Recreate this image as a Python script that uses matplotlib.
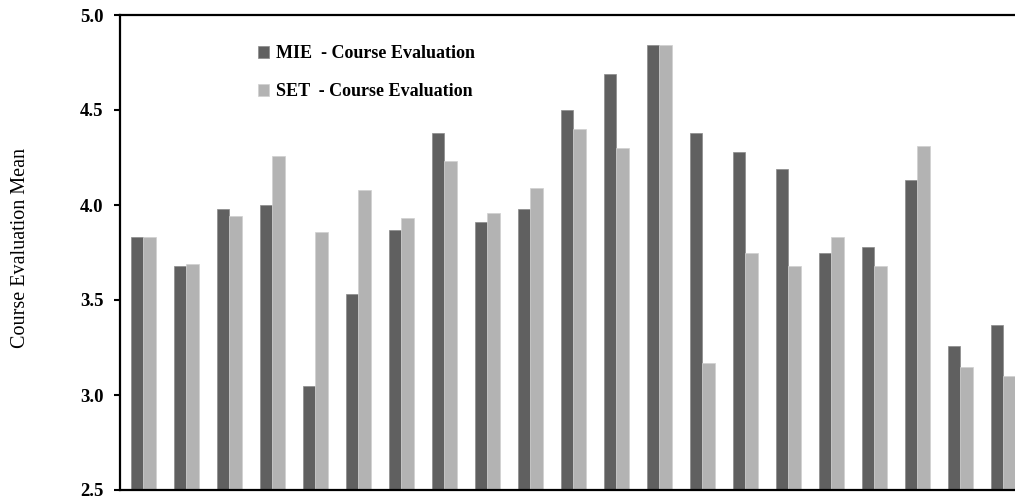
import numpy as np
import matplotlib.pyplot as plt

# mean scores per course, two evaluation sources
mie = [3.83, 3.68, 3.98, 4.00, 3.05, 3.53, 3.87, 4.38, 3.91, 3.98, 4.50,
       4.69, 4.84, 4.38, 4.28, 4.19, 3.75, 3.78, 4.13, 3.26, 3.37]
set_ = [3.83, 3.69, 3.94, 4.26, 3.86, 4.08, 3.93, 4.23, 3.96, 4.09, 4.40,
        4.30, 4.84, 3.17, 3.75, 3.68, 3.83, 3.68, 4.31, 3.15, 3.10]
yticks = [2.5, 3.0, 3.5, 4.0, 4.5, 5.0]

plt.rcParams['font.family'] = ['Liberation Serif', 'DejaVu Serif']

fig = plt.figure(figsize=(10.15, 5.0), dpi=100)
ax = fig.add_axes([0.1182, 0.02, 0.8818, 0.95])

x = np.arange(len(mie))
w = 0.285
ax.bar(x - w / 2, mie, w, color='#606060', edgecolor='#8a8a8a',
       linewidth=0.5, label='MIE  - Course Evaluation', zorder=3)
ax.bar(x + w / 2, set_, w, color='#b3b3b3', edgecolor='#d0d0d0',
       linewidth=0.5, label='SET  - Course Evaluation', zorder=3)

ax.set_ylim(2.5, 5.0)
ax.set_xlim(-0.542, 20.27)
ax.set_yticks(yticks)
ax.set_yticklabels([f'{v:.1f}' for v in yticks], fontsize=13.5, fontweight='bold')
ax.tick_params(axis='y', direction='out', length=4, width=1.5, pad=8)
ax.set_xticks([])

for side in ['left', 'bottom', 'top']:
    ax.spines[side].set_linewidth(1.6)
    ax.spines[side].set_zorder(4)
ax.spines['right'].set_visible(False)

ax.set_ylabel('Course Evaluation Mean', fontsize=14.5)
ax.yaxis.set_label_coords(-0.1, 0.51)

ax.legend(loc='upper left', bbox_to_anchor=(0.136, 0.97), frameon=False,
          prop={'weight': 'bold', 'size': 13}, handlelength=0.6,
          handleheight=0.6, handletextpad=0.4, labelspacing=1.15)

fig.savefig('out.png', dpi=100)
